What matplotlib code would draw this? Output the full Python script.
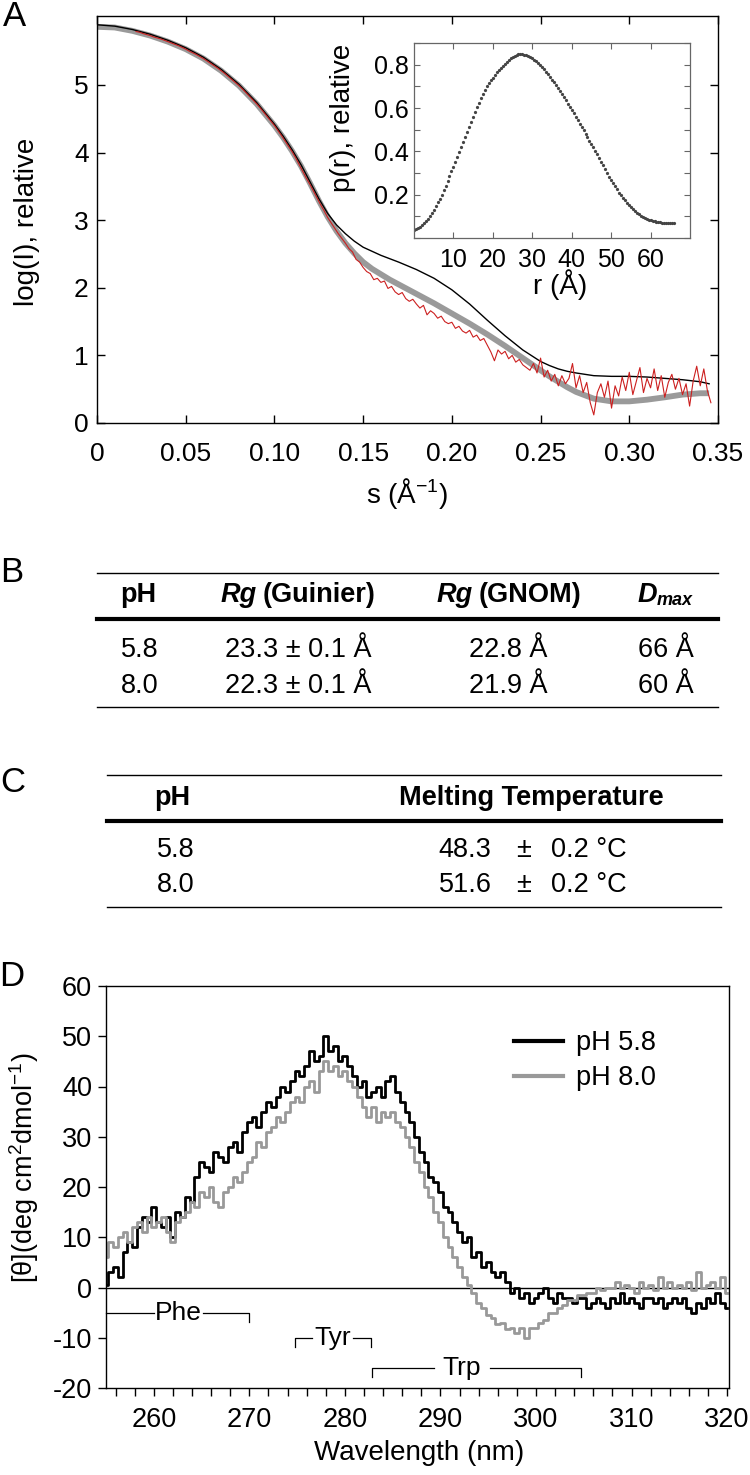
import numpy as np
import matplotlib
matplotlib.use("Agg")
import matplotlib.pyplot as plt
from matplotlib.lines import Line2D
from matplotlib.ticker import MultipleLocator

plt.rcParams['font.family'] = ['Liberation Sans', 'DejaVu Sans']
plt.rcParams['axes.unicode_minus'] = False
plt.rcParams['mathtext.fontset'] = 'custom'
plt.rcParams['mathtext.rm'] = 'Liberation Sans'
plt.rcParams['mathtext.it'] = 'Liberation Sans:italic'
plt.rcParams['mathtext.bf'] = 'Liberation Sans:bold'

# ---- panel A: SAXS curves -------------------------------------------------
s_fit = [0.00, 0.01, 0.02, 0.03, 0.04, 0.05, 0.06, 0.07, 0.08, 0.09,
         0.10, 0.105, 0.11, 0.115, 0.12, 0.125, 0.13, 0.135, 0.14, 0.145,
         0.15, 0.155, 0.16, 0.165, 0.17, 0.18, 0.19, 0.20, 0.21, 0.22,
         0.23, 0.24, 0.25, 0.255, 0.26, 0.265, 0.27, 0.28, 0.29, 0.30,
         0.31, 0.32, 0.33, 0.34, 0.345]
logI_fit = [5.86, 5.85, 5.80, 5.73, 5.64, 5.53, 5.39, 5.21, 4.99, 4.72,
            4.40, 4.22, 4.02, 3.80, 3.55, 3.29, 3.05, 2.84, 2.66, 2.51,
            2.38, 2.28, 2.20, 2.12, 2.05, 1.91, 1.77, 1.62, 1.47, 1.31,
            1.14, 0.96, 0.78, 0.69, 0.61, 0.53, 0.46, 0.36, 0.32, 0.32,
            0.345, 0.38, 0.42, 0.44, 0.44]
logI_model = [5.89, 5.87, 5.82, 5.75, 5.66, 5.55, 5.41, 5.23, 5.01, 4.74,
              4.42, 4.24, 4.04, 3.82, 3.57, 3.32, 3.10, 2.93, 2.80, 2.69,
              2.60, 2.54, 2.48, 2.43, 2.38, 2.27, 2.14, 1.97, 1.76, 1.52,
              1.29, 1.08, 0.91, 0.85, 0.80, 0.765, 0.74, 0.70, 0.69, 0.69,
              0.68, 0.66, 0.64, 0.61, 0.58]

# experimental curve, s = 0.022 ... 0.346 in steps of 0.002
s_exp_start, s_exp_step = 0.022, 0.002
logI_exp = [
    5.79, 5.78, 5.76, 5.745, 5.73, 5.71, 5.695, 5.68, 5.66, 5.64,
    5.62, 5.60, 5.58, 5.555, 5.53, 5.50, 5.475, 5.45, 5.42, 5.39,
    5.355, 5.32, 5.285, 5.25, 5.21, 5.17, 5.125, 5.08, 5.035, 4.99,
    4.94, 4.885, 4.83, 4.775, 4.72, 4.66, 4.595, 4.53, 4.465, 4.40,
    4.325, 4.25, 4.17, 4.09, 4.01, 3.92, 3.82, 3.72, 3.62, 3.53,
    3.43, 3.33, 3.23, 3.14, 3.04, 2.96, 2.88, 2.80, 2.73, 2.66,
    2.58, 2.53, 2.42, 2.38, 2.30, 2.24, 2.21, 2.12, 2.14, 2.08,
    2.10, 1.99, 2.02, 1.94, 1.90, 1.93, 1.84, 1.80, 1.83, 1.76,
    1.70, 1.74, 1.60, 1.66, 1.62, 1.55, 1.58, 1.50, 1.47, 1.49,
    1.40, 1.43, 1.36, 1.33, 1.37, 1.27, 1.30, 1.22, 1.25, 1.15,
    1.05, 0.92, 1.08, 1.02, 1.06, 0.95, 1.00, 0.90, 0.94, 0.86,
    0.82, 0.78, 0.88, 0.74, 0.96, 0.68, 0.78, 0.62, 0.72, 0.55,
    0.70, 0.58, 0.66, 0.88, 0.52, 0.70, 0.45, 0.60, 0.30, 0.12,
    0.45, 0.58, 0.38, 0.62, 0.22, 0.55, 0.40, 0.68, 0.48, 0.75,
    0.42, 0.62, 0.82, 0.45, 0.66, 0.52, 0.80, 0.48, 0.70, 0.38,
    0.60, 0.72, 0.50, 0.66, 0.42, 0.58, 0.25, 0.62, 0.84, 0.55,
    0.80, 0.48, 0.30]

# inset p(r), r = 0 ... 66 A in steps of 0.5
r_step = 0.5
p_r = [
    .038, .041, .045, .051, .058, .067, .078, .090, .103, .116,
    .130, .147, .165, .182, .200, .220, .240, .262, .285, .308,
    .330, .352, .375, .398, .420, .443, .466, .488, .510, .535,
    .560, .583, .605, .625, .645, .665, .685, .700, .715, .728,
    .740, .753, .765, .775, .785, .795, .805, .814, .822, .829,
    .835, .840, .845, .847, .848, .847, .846, .843, .840, .835,
    .830, .823, .815, .807, .798, .788, .778, .767, .755, .743,
    .730, .718, .705, .692, .678, .664, .650, .635, .620, .605,
    .590, .575, .560, .544, .528, .512, .497, .481, .466, .450,
    .435, .419, .403, .386, .370, .353, .336, .318, .300, .283,
    .267, .252, .238, .224, .210, .197, .185, .174, .163, .154,
    .145, .135, .125, .117, .110, .103, .097, .092, .088, .085,
    .082, .079, .077, .075, .073, .072, .071, .070, .070, .070,
    .070, .070, .070]

# ---- tables B and C ---------------------------------------------------------
b_ph = ['5.8', '8.0']
b_rg_guinier = ['23.3 ± 0.1 Å', '22.3 ± 0.1 Å']
b_rg_gnom = ['22.8 Å', '21.9 Å']
b_dmax = ['66 Å', '60 Å']

c_ph = ['5.8', '8.0']
c_tm = ['48.3', '51.6']
c_tm_err = ['0.2 °C', '0.2 °C']

# ---- panel D: CD spectra, 255 ... 320 nm in steps of 0.5 ------------------
wl_start, wl_step = 255.0, 0.5
cd_ph58 = [
    0.5, 3, 4, 2, 7, 9, 8, 12, 14, 13,
    16, 13, 12, 14, 10, 15, 14, 18, 17, 22,
    25, 24, 23, 27, 26, 25, 28, 29, 27, 31,
    33, 34, 32, 35, 37, 36, 38, 40, 39, 41,
    43, 42, 44, 47, 45, 46, 50, 47, 48, 45,
    46, 44, 42, 40, 41, 38, 39, 40, 38, 41,
    42, 39, 37, 35, 33, 30, 27, 25, 22, 21,
    19, 16, 15, 13, 11, 9, 10, 6, 7, 4,
    5, 3, 2, 3, 1, -1, 0, -2, -1, -3,
    -2, -1, 0, -2, -3, -1, -2, -2, -3, -2,
    -2, -4, -3, -2, -3, -4, -2, -3, -1, -3,
    -2, -3, -4, -2, -2, -3, -2, -4, -3, -2,
    -3, -2, -4, -5, -3, -4, -2, -3, -1, -3,
    -4]
cd_ph80 = [
    6, 9, 8, 10, 11, 9, 12, 13, 11, 14,
    12, 13, 14, 11, 9, 13, 14, 15, 17, 16,
    19, 18, 20, 17, 16, 19, 20, 22, 21, 23,
    25, 26, 29, 28, 31, 32, 34, 33, 35, 37,
    38, 37, 40, 41, 39, 43, 45, 43, 44, 42,
    43, 41, 40, 38, 36, 34, 36, 33, 35, 34,
    35, 33, 32, 30, 28, 25, 23, 20, 18, 15,
    13, 10, 8, 6, 4, 2, 0.5, -1, -3, -4,
    -5.5, -6, -7.3, -7, -8.3, -8, -9, -8, -10, -8,
    -8, -7, -6.5, -5, -5, -4, -3.5, -2.5, -2.5, -1.5,
    -1.5, -1, -1, 0, -0.5, 0, 0, 1, 0, 0.5,
    0, -1, 1, 0, 0.5, -0.5, 2, 0, 1, 0,
    0.5, 0, 1, -0.5, 3, 0, 0.5, 1, 0, 2,
    -1]

aa_names = ['Phe', 'Tyr', 'Trp']
aa_ranges = [(255.0, 270.0), (274.8, 282.75), (282.8, 304.7)]
aa_level = [-5, -10, -16]
aa_text_gap = [(260.0, 265.2), (276.6, 280.9), (289.3, 295.2)]

W, H = 750, 1475
fig = plt.figure(figsize=(W / 100, H / 100), dpi=100)
renderer = fig.canvas.get_renderer()


def fx(x):
    return x / W


def fy(y):
    return 1 - y / H


def box(l, t, r, b):
    return [fx(l), fy(b), (r - l) / W, (b - t) / H]


def hline(x0, x1, y, lw):
    fig.add_artist(Line2D([fx(x0), fx(x1)], [fy(y), fy(y)], color='black', lw=lw))


def seq_text(xc, yb, parts, gap=5):
    """Write text pieces side by side, the whole group centred on xc (px)."""
    items = []
    for txt, dy, kw in parts:
        t = fig.text(0, fy(yb + dy), txt, ha='left', va='baseline', **kw)
        items.append(t)
    widths = [t.get_window_extent(renderer).width for t in items]
    total = sum(widths) + gap * (len(items) - 1)
    x = xc - total / 2
    for t, w in zip(items, widths):
        t.set_x(fx(x))
        x += w + gap


# ---- A ----
ax = fig.add_axes(box(97, 16, 718, 423))
s_exp = s_exp_start + s_exp_step * np.arange(len(logI_exp))
ax.plot(s_fit, logI_fit, color='#9a9a9a', lw=4.2, solid_capstyle='butt', zorder=1)
ax.plot(s_fit, logI_model, color='black', lw=1.0, zorder=2)
ax.plot(s_exp, logI_exp, color='#cc1f1f', lw=0.8, zorder=3)
ax.set_xlim(0, 0.35)
ax.set_ylim(0, 6.02)
ax.set_xticks([0, 0.05, 0.10, 0.15, 0.20, 0.25, 0.30, 0.35])
ax.set_xticklabels(['0', '0.05', '0.10', '0.15', '0.20', '0.25', '0.30', '0.35'])
ax.set_yticks([0, 1, 2, 3, 4, 5])
ax.tick_params(direction='in', top=True, right=True, length=6, width=1, labelsize=19)
ax.tick_params(axis='x', pad=14)
ax.tick_params(axis='y', pad=6)
for sp in ax.spines.values():
    sp.set_linewidth(1.0)
fig.text(fx(27), fy(222), 'log(I), relative', rotation=90, ha='center', va='center', fontsize=20)
fig.text(fx(407), fy(493), 's (Å$^{-1}$)', ha='center', va='center', fontsize=20)

axi = fig.add_axes(box(414, 43, 690, 238))
r_pr = r_step * np.arange(len(p_r))
axi.plot(r_pr, p_r, ls='none', marker='o', ms=1.3, color='#444444')
axi.set_xlim(0, 70)
axi.set_ylim(0, 0.9)
axi.set_xticks([10, 20, 30, 40, 50, 60])
axi.set_yticks([0.2, 0.4, 0.6, 0.8])
axi.set_yticklabels(['0.2', '0.4', '0.6', '0.8'])
axi.yaxis.set_minor_locator(MultipleLocator(0.1))
axi.tick_params(which='both', direction='in', top=True, right=True, length=4,
                width=0.8, color='#666666', labelsize=18)
axi.tick_params(axis='x', pad=7)
axi.tick_params(axis='y', pad=4)
for sp in axi.spines.values():
    sp.set_color('#666666')
    sp.set_linewidth(0.9)
fig.text(fx(343), fy(118), 'p(r), relative', rotation=90, ha='center', va='center', fontsize=20)
fig.text(fx(560), fy(285), 'r (Å)', ha='center', va='center', fontsize=20)

# ---- B ----
hline(97, 718, 573, 1.0)
hline(97, 718, 619, 3.0)
hline(97, 718, 707, 1.0)
fs = 19.5
bold = dict(fontsize=fs, fontweight='bold')
boldital = dict(fontsize=fs, fontweight='bold', fontstyle='italic')
fig.text(fx(138), fy(602), 'pH', ha='center', va='baseline', **bold)
seq_text(298, 602, [('Rg', 0, boldital), ('(Guinier)', 0, bold)])
seq_text(509, 602, [('Rg', 0, boldital), ('(GNOM)', 0, bold)])
seq_text(665, 602, [('D', 0, boldital),
                    ('max', 3, dict(fontsize=13, fontweight='bold', fontstyle='italic'))], gap=0)
for i, yb in enumerate([657, 693]):
    fig.text(fx(140), fy(yb), b_ph[i], ha='center', va='baseline', fontsize=fs)
    fig.text(fx(298), fy(yb), b_rg_guinier[i], ha='center', va='baseline', fontsize=fs)
    fig.text(fx(508), fy(yb), b_rg_gnom[i], ha='center', va='baseline', fontsize=fs)
    fig.text(fx(666), fy(yb), b_dmax[i], ha='center', va='baseline', fontsize=fs)

# ---- C ----
hline(107, 721, 775, 1.0)
hline(107, 721, 821, 3.0)
hline(107, 721, 907, 1.0)
fig.text(fx(172), fy(805), 'pH', ha='center', va='baseline', **bold)
fig.text(fx(531), fy(805), 'Melting Temperature', ha='center', va='baseline', **bold)
for i, yb in enumerate([857, 892]):
    fig.text(fx(176), fy(yb), c_ph[i], ha='center', va='baseline', fontsize=fs)
    fig.text(fx(465), fy(yb), c_tm[i], ha='center', va='baseline', fontsize=fs)
    fig.text(fx(524), fy(yb), '±', ha='center', va='baseline', fontsize=fs)
    fig.text(fx(589), fy(yb), c_tm_err[i], ha='center', va='baseline', fontsize=fs)

# ---- D ----
axd = fig.add_axes(box(106, 986, 729, 1388))
wl = wl_start + wl_step * np.arange(len(cd_ph58))
axd.plot(wl, cd_ph58, drawstyle='steps-mid', color='black', lw=2.0, label='pH 5.8')
axd.plot(wl, cd_ph80, drawstyle='steps-mid', color='#999999', lw=2.0, label='pH 8.0')
axd.axhline(0, color='black', lw=1.0, zorder=0)
axd.set_xlim(255, 320.2)
axd.set_ylim(-20, 60)
axd.set_xticks([260, 270, 280, 290, 300, 310, 320])
axd.xaxis.set_minor_locator(MultipleLocator(2))
axd.set_yticks([-20, -10, 0, 10, 20, 30, 40, 50, 60])
axd.tick_params(which='both', direction='out', length=6, width=1, labelsize=19.5)
axd.tick_params(axis='x', pad=8)
axd.tick_params(axis='y', pad=4)
for sp in axd.spines.values():
    sp.set_linewidth(1.0)
for name, (a, b), lev, (g0, g1) in zip(aa_names, aa_ranges, aa_level, aa_text_gap):
    tick = 1.8
    if name == 'Phe':
        axd.plot([a, g0], [lev, lev], color='black', lw=0.9, clip_on=False)
    else:
        axd.plot([a, a, g0], [lev - tick, lev, lev], color='black', lw=0.9, clip_on=False)
    axd.plot([g1, b, b], [lev, lev, lev - tick], color='black', lw=0.9, clip_on=False)
    axd.text((g0 + g1) / 2, lev, name, ha='center', va='center', fontsize=19)
axd.legend(loc='upper left', bbox_to_anchor=(fx(514), fy(1030)), bbox_transform=fig.transFigure,
           frameon=False, fontsize=19.5, handlelength=1.8, handletextpad=0.5,
           labelspacing=0.35, borderpad=0, borderaxespad=0)
for lh in axd.get_legend().get_lines():
    lh.set_linewidth(3.0)
fig.text(fx(24), fy(1168), '[θ](deg cm$^{2}$dmol$^{-1}$)', rotation=90, ha='center', va='center', fontsize=19.5)
fig.text(fx(419), fy(1453), 'Wavelength (nm)', ha='center', va='center', fontsize=20)

# panel letters
for lab, (x, y) in zip('ABCD', [(14, 16), (12, 573), (13, 782), (12, 977)]):
    fig.text(fx(x), fy(y), lab, ha='center', va='center', fontsize=25)

fig.savefig('out.png', dpi=100)
